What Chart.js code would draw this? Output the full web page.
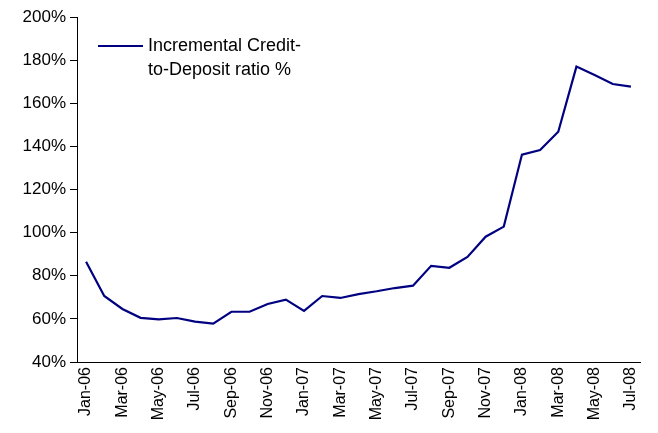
<!DOCTYPE html>
<html>
<head>
<meta charset="utf-8">
<script src="https://cdn.jsdelivr.net/npm/chart.js@4/dist/chart.umd.min.js"></script>
<style>
  html, body { margin: 0; padding: 0; background: #fff; }
  #wrap { width: 658px; height: 433px; }
</style>
</head>
<body>
<div id="wrap"><canvas id="chart" width="658" height="433"></canvas></div>
<script>
  // months Jan-06 .. Jul-08
  var months = ['Jan-06', 'Feb-06', 'Mar-06', 'Apr-06', 'May-06', 'Jun-06', 'Jul-06', 'Aug-06',
    'Sep-06', 'Oct-06', 'Nov-06', 'Dec-06', 'Jan-07', 'Feb-07', 'Mar-07', 'Apr-07', 'May-07',
    'Jun-07', 'Jul-07', 'Aug-07', 'Sep-07', 'Oct-07', 'Nov-07', 'Dec-07', 'Jan-08', 'Feb-08',
    'Mar-08', 'Apr-08', 'May-08', 'Jun-08', 'Jul-08'];

  // incremental credit-to-deposit ratio, %
  var ratio = [86.5, 70.6, 64.6, 60.5, 59.8, 60.4, 58.7, 57.8,
    63.3, 63.3, 66.9, 68.9, 63.7, 70.6, 69.7, 71.5, 72.8,
    74.3, 75.4, 84.6, 83.7, 88.7, 98.1, 102.8, 136.2, 138.3,
    146.8, 177.0, 173.1, 168.9, 167.7];

  var seriesLabel = ['Incremental Credit-', 'to-Deposit ratio %'];
  var yTicks = [40, 60, 80, 100, 120, 140, 160, 180, 200];

  var fontFamily = 'Arial, "Liberation Sans", sans-serif';
  var lineColor = '#000080';

  // legend drawn inside the plot, two-line label like the original
  var insideLegend = {
    id: 'insideLegend',
    afterDraw: function(chart) {
      var ctx = chart.ctx;
      var x0 = chart.chartArea.left + 21;
      var y0 = chart.chartArea.top + 29;
      ctx.save();
      ctx.strokeStyle = lineColor;
      ctx.lineWidth = 2;
      ctx.beginPath();
      ctx.moveTo(x0, y0);
      ctx.lineTo(x0 + 45, y0);
      ctx.stroke();
      ctx.fillStyle = '#000';
      ctx.font = '18px ' + fontFamily;
      ctx.textBaseline = 'middle';
      ctx.textAlign = 'left';
      for (var i = 0; i < seriesLabel.length; i++) {
        ctx.fillText(seriesLabel[i], x0 + 50, y0 + i * 24);
      }
      ctx.restore();
    }
  };

  new Chart(document.getElementById('chart'), {
    type: 'line',
    data: {
      labels: months,
      datasets: [{
        label: seriesLabel.join(''),
        data: ratio,
        borderColor: lineColor,
        borderWidth: 2.2,
        pointRadius: 0,
        tension: 0,
        fill: false
      }]
    },
    options: {
      responsive: false,
      animation: false,
      layout: { padding: { top: 17, right: 18, left: 0, bottom: 0 } },
      plugins: {
        legend: { display: false },
        tooltip: { enabled: false }
      },
      scales: {
        x: {
          offset: true,
          grid: { display: true, drawOnChartArea: false, drawTicks: false, color: '#000' },
          border: { display: true, color: '#000', width: 1 },
          ticks: {
            autoSkip: false,
            maxRotation: 90,
            minRotation: 90,
            padding: 5,
            color: '#000',
            font: { family: fontFamily, size: 16 },
            callback: function(val, idx) {
              return idx % 2 === 0 ? months[idx] : '';
            }
          },
          afterFit: function(scale) { scale.height = 71; }
        },
        y: {
          min: 40,
          max: 200,
          afterBuildTicks: function(scale) {
            scale.ticks = yTicks.map(function(v) { return { value: v }; });
          },
          grid: { drawOnChartArea: false, drawTicks: true, tickLength: 7, color: '#000' },
          border: { display: true, color: '#000', width: 1 },
          ticks: {
            padding: 4,
            color: '#000',
            font: { family: fontFamily, size: 17 },
            callback: function(v) { return v + '%'; }
          },
          afterFit: function(scale) { scale.width = 77; }
        }
      }
    },
    plugins: [insideLegend]
  });
</script>
</body>
</html>
